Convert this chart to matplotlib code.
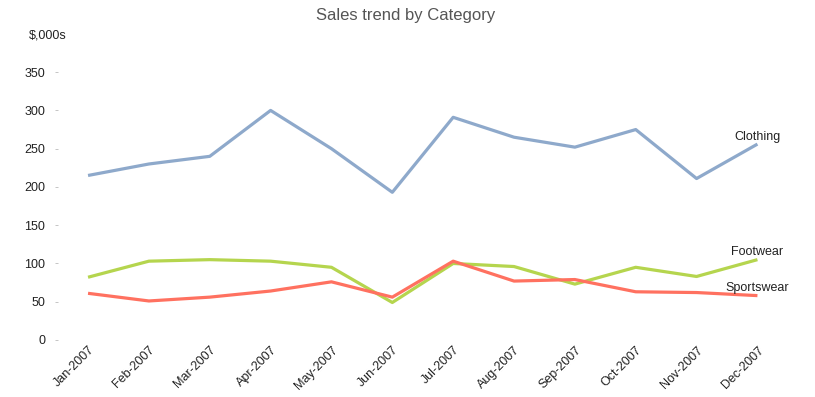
import numpy as np
import matplotlib.pyplot as plt

# data ($,000s)
months = ["Jan-2007", "Feb-2007", "Mar-2007", "Apr-2007", "May-2007", "Jun-2007",
          "Jul-2007", "Aug-2007", "Sep-2007", "Oct-2007", "Nov-2007", "Dec-2007"]
clothing = [215, 230, 240, 300, 250, 193, 291, 265, 252, 275, 211, 256]
footwear = [82, 103, 105, 103, 95, 49, 100, 96, 73, 95, 83, 105]
sportswear = [61, 51, 56, 64, 76, 56, 103, 77, 79, 63, 62, 58]

series = [
    ("Clothing", clothing, "#8EA9CB"),
    ("Footwear", footwear, "#B5D54E"),
    ("Sportswear", sportswear, "#FF7160"),
]

plt.rcParams["font.family"] = ["Liberation Sans", "DejaVu Sans"]

fig = plt.figure(figsize=(8.15, 3.97), dpi=100)
ax = fig.add_axes([0.0707, 0.1436, 0.896, 0.771])

x = np.arange(len(months))
for name, vals, color in series:
    ax.plot(x, vals, color=color, lw=2.3, solid_capstyle="butt")
    ax.annotate(name, (x[-1], vals[-1]), xytext=(0, 1), textcoords="offset points",
                ha="center", va="bottom", fontsize=9, color="#222222")

ax.set_xlim(-0.5, len(months) - 0.5)
ax.set_ylim(0, 400)
ax.set_yticks(range(0, 351, 50))
ax.set_xticks(x)
ax.set_xticklabels(months, rotation=45, ha="right", rotation_mode="anchor")

for s in ax.spines.values():
    s.set_visible(False)
ax.tick_params(axis="y", length=2, width=0.6, color="#bbbbbb", labelsize=9,
               labelcolor="#222222", pad=7)
ax.tick_params(axis="x", length=0, labelsize=9, labelcolor="#222222", pad=3)

fig.text(0.035, 0.91, "$,000s", fontsize=9, color="#222222", ha="left", va="center")
fig.text(0.498, 0.96, "Sales trend by Category", fontsize=12, color="#555555",
         ha="center", va="center")

fig.savefig("out.png", dpi=100)
